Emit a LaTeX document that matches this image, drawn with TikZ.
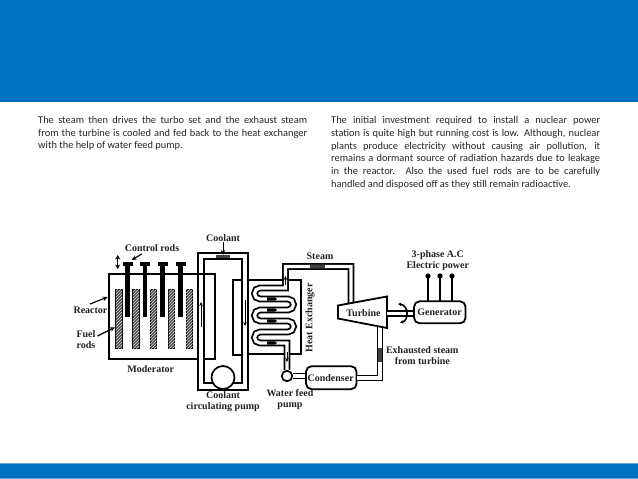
\documentclass[tikz,border=0pt]{standalone}
\usepackage{fontspec}
\setmainfont{Liberation Serif}
\newfontfamily\bodyfont{Carlito}
\usetikzlibrary{arrows.meta,patterns}
\definecolor{barblue}{HTML}{0070C0}
\definecolor{barlight}{HTML}{62A8DC}
\definecolor{bodyink}{HTML}{262626}
\definecolor{labelink}{HTML}{222222}
\newcommand{\jline}[1]{\hbox to 269pt{#1}}
\tikzset{
  wall/.style={draw=black,line width=1.8pt},
  pipe/.style={draw=black,line width=1.8pt,double=white,double distance=3.2pt,line join=miter},
  lab/.style={font=\bfseries\fontsize{10}{10}\selectfont,text=labelink,inner sep=0pt,align=center},
  para/.style={font=\bodyfont\fontsize{10.4}{12.8}\selectfont,text=bodyink,inner sep=0pt,anchor=north west},
  ptr/.style={draw=black,line width=1.2pt,-{Stealth[length=5pt,width=4.5pt]}},
  flow/.style={draw=black,line width=0.9pt,-{Stealth[length=4pt,width=3.5pt]}},
  crod/.style={fill=black},
  frod/.style={draw=black,line width=1pt,fill=black!70,postaction={pattern=north east lines,pattern color=white!85!black}},
  marker/.style={fill=black!75},
  unitbox/.style={draw=black,line width=1.8pt,rounded corners=5.5pt,fill=white,inner sep=0pt},
  pumpc/.style={circle,draw=black,line width=1.7pt,fill=white,inner sep=0pt}
}
\begin{document}
\begin{tikzpicture}[x=1pt,y=-1pt]
\useasboundingbox (0,0) rectangle (638,479);
\fill[white] (0,0) rectangle (638,479);
% bars
\fill[barblue] (0,0) rectangle (638,102);
\fill[barblue] (0,462.5) rectangle (638,479);
\fill[barlight] (0,462.5) rectangle (638,463.3);
\fill[barlight] (0,478.2) rectangle (638,479);
% text
\node[para] (left) at (38,116) {\vbox{\baselineskip=12.7pt
  \jline{The steam then drives the turbo set and the exhaust steam}
  \jline{from the turbine is cooled and fed back to the heat exchanger}
  \hbox{with the help of water feed pump.}}};
\node[para] (right) at (331,116) {\vbox{\baselineskip=12.8pt
  \jline{The initial investment required to install a nuclear power}
  \jline{station is quite high but running cost is low. Although, nuclear}
  \jline{plants produce electricity without causing air pollution, it}
  \jline{remains a dormant source of radiation hazards due to leakage}
  \jline{in the reactor. Also the used fuel rods are to be carefully}
  \hbox{handled and disposed off as they still remain radioactive.}}};
% reactor vessel
\draw[wall] (198,359) -- (109,359) -- (109,274) -- (215,274) -- (215,359) -- (204,359);
% coolant loop
\draw[wall] (198,253) rectangle (248,390);
\draw[wall] (204,259) rectangle (242,383);
\draw[wall] (242,280) -- (233,280) -- (233,355) -- (242,355);
% heat exchanger shell
\draw[wall] (248,280) -- (301,280) -- (301,354) -- (248,354);
% control rods
\foreach \x in {127.7,145,162.7,180.7}{
  \fill[crod] (\x-2.4,262) rectangle (\x+2.4,317.3);
  \fill[crod] (\x-4.8,262) rectangle (\x+4.8,265.8);
}
% fuel rods
\foreach \x in {119,136,153.3,171.7,189.3}{
  \path[frod] (\x-3.2,289) rectangle (\x+3.2,348);
}
% steam + coil + feed line, one continuous pipe
\coordinate (turbin) at (351,303);
\coordinate (steamcorner) at (351,266.5);
\coordinate (hxcorner) at (285.5,266.5);
\node[pumpc,minimum size=10.5pt] (fpump) at (287,376) {};
\node[unitbox,minimum width=50.5pt,minimum height=23pt] (cond) at (331.3,377.7) {};
\draw[pipe] (turbin) -- (steamcorner) -- (hxcorner) -- (285.5,288) -- (260,288)
  arc[start angle=270,end angle=90,radius=5.5]
  -- (288,299) arc[start angle=-90,end angle=90,radius=5.5]
  -- (260,310) arc[start angle=270,end angle=90,radius=5.5]
  -- (288,321) arc[start angle=-90,end angle=90,radius=5.5]
  -- (260,332) arc[start angle=270,end angle=90,radius=5.5]
  -- (287,343) -- (fpump.north);
\foreach \y in {299,310,321,343}{
  \fill[black] (267,\y-1.6) -- (275,\y-1.6) -- (277,\y) -- (275,\y+1.6) -- (267,\y+1.6) -- cycle;
}
\draw[pipe] (fpump.east) -- (fpump.east -| cond.west);
% markers in pipes
\fill[marker] (310,264.6) rectangle (325,268.4);
\draw[flow] (285.5,285) -- (285.5,276);
\draw[flow] (287,352) -- (287,362);
% exhaust line
\coordinate (exhaust) at (380,326);
\coordinate (exhcorner) at (380,378);
\draw[pipe] (exhaust) -- (exhcorner) -- (cond.east |- exhcorner);
\fill[marker] (378.2,348) rectangle (381.8,362);
% turbine
\draw[wall,fill=white,line join=miter] (338,305.5) -- (387,296.5) -- (387,328) -- (338,318.5) -- cycle;
\node[lab] (turbtext) at (363.5,312.7) {Turbine};
% generator
\node[unitbox,minimum width=51.5pt,minimum height=22pt] (gen) at (439.8,312.3) {};
\node[lab] (gentext) at (439.5,312) {Generator};
\node[lab] (condtext) at (330.7,377.7) {Condenser};
% shaft
\coordinate (shaft) at (387,313.5);
\draw[pipe] (shaft) -- (shaft -| gen.west);
\draw[line width=1.6pt,{Stealth[length=3.5pt,width=3.5pt]}-{Stealth[length=3.5pt,width=3.5pt]}] (398,304) .. controls (409,305) and (409,321) .. (400,322.5);
% outputs
\foreach \x/\n in {428/a,440/b,452/c}{
  \coordinate (out\n) at (\x,276);
  \draw[wall] (out\n) -- (\x,301);
  \fill[black] (out\n) circle (2.7);
}
% circulating pump
\node[pumpc,minimum size=23pt] (cpump) at (223,377.5) {};
% coolant marker and arrows
\coordinate (coolin) at (223,255);
\fill[marker] (216,254.5) rectangle (230,257.5);
\draw[ptr,line width=1pt] (223,242) -- (coolin);
\draw[flow] (201,327) -- (201,302);
\draw[flow] (245,300) -- (245,326);
% moving rod arrow
\draw[line width=1.4pt,{Stealth[length=4.5pt,width=5pt]}-{Stealth[length=4.5pt,width=5pt]}] (117.7,255) -- (117.7,269);
% labels
\node[lab] (l1) at (152,248) {Control rods};
\coordinate (capa) at (131.7,260);
\draw[ptr] (141.7,254) -- (capa);
\node[lab] (l2) at (223,238) {Coolant};
\node[lab] (l3) at (90.5,310.7) {Reactor};
\coordinate (vesselpt) at (107.7,297);
\draw[ptr] (90,304) -- (vesselpt);
\node[lab] (l4) at (86,340) {Fuel\\[1pt]rods};
\coordinate (fuelpt) at (115,327.3);
\draw[ptr] (97.5,336) -- (fuelpt);
\node[lab] (l5) at (150.7,369) {Moderator};
\node[lab] (l6) at (223,401.2) {Coolant\\[1pt]circulating pump};
\node[lab] (l7) at (290,400) {Water feed\\[1pt]pump};
\node[lab,rotate=90] (l8) at (310,317.7) {Heat Exchanger};
\node[lab] (l9) at (320,256.5) {Steam};
\node[lab] (l10) at (437.8,260.5) {3-phase A.C\\[1pt]Electric power};
\node[lab] (l11) at (422.3,356) {Exhausted steam\\[1pt]from turbine};
\end{tikzpicture}
\end{document}
